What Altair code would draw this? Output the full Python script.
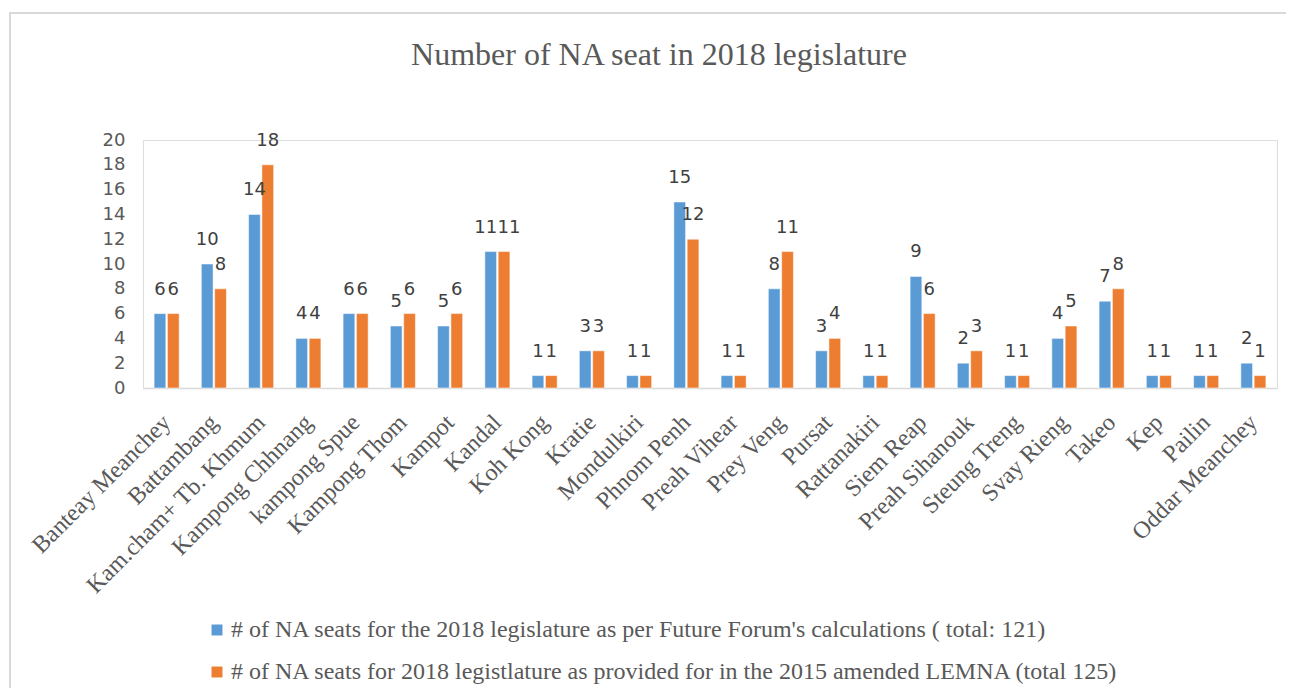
import altair as alt
import pandas as pd

provinces = ["Banteay Meanchey", "Battambang", "Kam.cham+ Tb. Khmum", "Kampong Chhnang",
             "kampong Spue", "Kampong Thom", "Kampot", "Kandal", "Koh Kong", "Kratie",
             "Mondulkiri", "Phnom Penh", "Preah Vihear", "Prey Veng", "Pursat", "Rattanakiri",
             "Siem Reap", "Preah Sihanouk", "Steung Treng", "Svay Rieng", "Takeo", "Kep",
             "Pailin", "Oddar Meanchey"]
future_forum = [6, 10, 14, 4, 6, 5, 5, 11, 1, 3, 1, 15, 1, 8, 3, 1, 9, 2, 1, 4, 7, 1, 1, 2]
lemna_2015 = [6, 8, 18, 4, 6, 6, 6, 11, 1, 3, 1, 12, 1, 11, 4, 1, 6, 3, 1, 5, 8, 1, 1, 1]
series_names = [
    "# of NA seats for the 2018 legislature as per Future Forum's calculations ( total: 121)",
    "# of NA seats for 2018 legistlature as provided for in the 2015 amended LEMNA (total 125)",
]
colors = ["#5B9BD5", "#ED7D31"]
y_ticks = [0, 2, 4, 6, 8, 10, 12, 14, 16, 18, 20]

rows = []
for i, p in enumerate(provinces):
    rows.append({"province": p, "series": series_names[0], "value": future_forum[i]})
    rows.append({"province": p, "series": series_names[1], "value": lemna_2015[i]})
df = pd.DataFrame(rows)

W, H = 1134, 248

x_enc = alt.X("province:N", sort=provinces,
              scale=alt.Scale(paddingInner=0.47, paddingOuter=0.235),
              axis=alt.Axis(title=None, labelAngle=-45, labelFont="Liberation Serif",
                            labelFontSize=24, labelColor="#595959", labelPadding=22,
                            labelOffset=-8,
                            ticks=False, domainColor="#d9d9d9", domainWidth=1.5,
                            labelAlign="right", labelBaseline="top", labelLimit=400))
xo_enc = alt.XOffset("series:N", sort=series_names, scale=alt.Scale(paddingInner=0.12))
y_enc = alt.Y("value:Q", scale=alt.Scale(domain=[0, 20], nice=False),
              axis=alt.Axis(title=None, values=y_ticks, grid=False, domain=False, ticks=False,
                            labelFont="DejaVu Sans", labelFontSize=18, labelColor="#595959",
                            labelPadding=18))

base = alt.Chart(df)

bars = base.mark_bar(stroke="white", strokeWidth=0.5).encode(
    x=x_enc, xOffset=xo_enc, y=y_enc,
    color=alt.Color("series:N", sort=series_names,
                    scale=alt.Scale(domain=series_names, range=colors),
                    legend=alt.Legend(title=None, orient="none", legendX=62, legendY=478,
                                      direction="vertical", symbolType="square",
                                      symbolSize=120, symbolStrokeWidth=0,
                                      labelFont="Liberation Serif", labelFontSize=24,
                                      labelColor="#595959", rowPadding=18, labelOffset=2,
                                      labelLimit=1100)),
)

# labels: pairs of equal two-digit values are nudged apart (as the original does)
lab_base = base.transform_joinaggregate(
    vmin="min(value)", vmax="max(value)", groupby=["province"]
).transform_calculate(
    crowded="datum.vmin >= 10 && datum.vmax - datum.vmin <= 1"
)
text_kw = dict(baseline="middle", align="center", font="DejaVu Sans", fontSize=18,
               color="#404040")
enc = dict(x=x_enc, xOffset=xo_enc, y=y_enc, text="value:Q")

labels_plain = lab_base.transform_filter("!datum.crowded").mark_text(dy=-24, **text_kw).encode(**enc)
labels_left = lab_base.transform_filter(
    alt.datum.crowded & (alt.datum.series == series_names[0])
).mark_text(dy=-24, dx=-5, **text_kw).encode(**enc)
labels_right = lab_base.transform_filter(
    alt.datum.crowded & (alt.datum.series == series_names[1])
).mark_text(dy=-24, dx=5, **text_kw).encode(**enc)

frame = alt.Chart(pd.DataFrame({"f": [0]})).mark_rect(
    fill="white", fillOpacity=0, stroke="#d9d9d9", strokeWidth=2).encode(
    x=alt.value(-133), x2=alt.value(1200), y=alt.value(-127), y2=alt.value(600))

chart = alt.layer(frame, bars, labels_plain, labels_left, labels_right).properties(
    width=W, height=H,
    title=alt.TitleParams("Number of NA seat in 2018 legislature", font="Liberation Serif",
                          fontSize=32, fontWeight="normal", color="#595959",
                          anchor="middle", dx=-51, offset=-60),
    autosize=alt.AutoSizeParams(type="none"),
    padding={"left": 135, "top": 132, "right": 9, "bottom": 300},
).configure_view(stroke=None).configure(background="white")

chart.save("out.html", embed_options={"renderer": "svg", "actions": False})
